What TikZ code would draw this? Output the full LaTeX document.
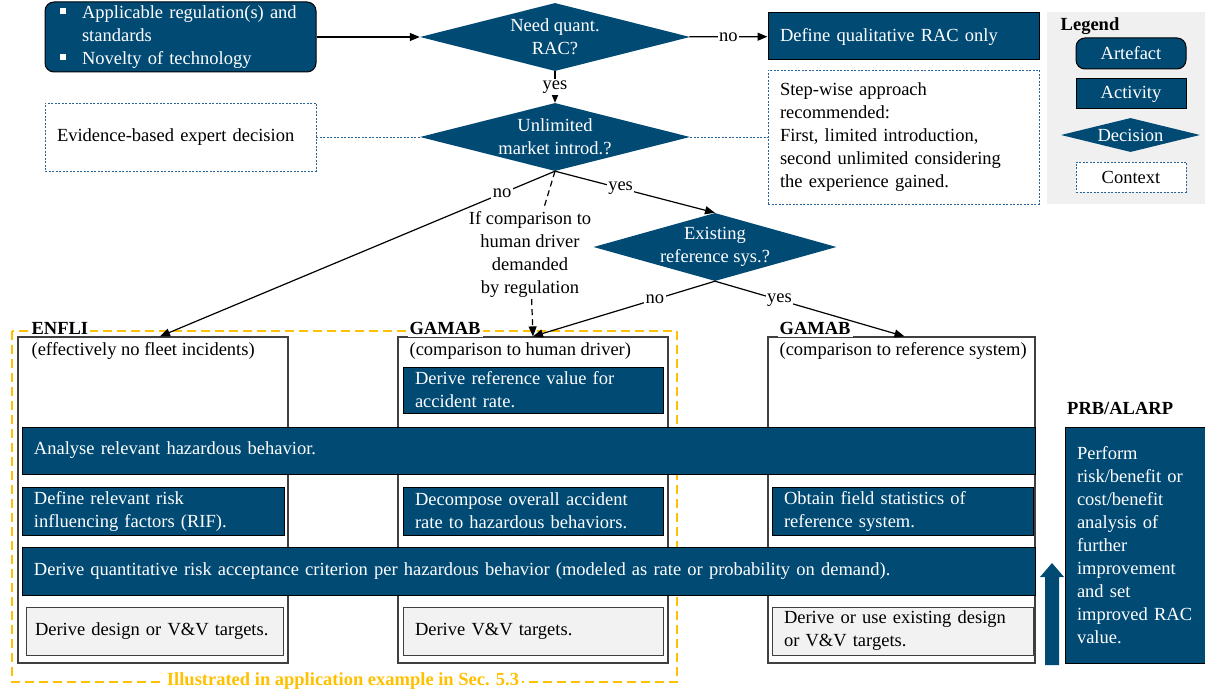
\documentclass[tikz,border=0pt]{standalone}
\usepackage{fontspec}
\setmainfont{Liberation Serif}
\usetikzlibrary{shapes.geometric,arrows.meta,calc}
\definecolor{racblue}{RGB}{0,74,116}
\definecolor{ctxblue}{RGB}{40,100,150}
\definecolor{illuyellow}{RGB}{255,192,0}
\definecolor{colgray}{RGB}{64,64,64}
\definecolor{tgtgray}{RGB}{242,242,242}
\definecolor{leggray}{RGB}{240,240,240}
\newcommand{\sqbul}{\rule[4pt]{6pt}{6pt}}

\begin{document}
\begin{tikzpicture}[x=1pt,y=1pt,yscale=-1,xscale=1,
    font=\fontsize{18.5}{23}\selectfont,
    artefact/.style={draw=black, line width=1pt, fill=racblue, text=white, rounded corners=9pt},
    activity/.style={draw=black, line width=1pt, fill=racblue, text=white, align=left, inner xsep=12pt, inner ysep=0pt},
    decision/.style={diamond, fill=racblue, text=white, align=center, inner sep=-3pt, aspect=4},
    context/.style={draw=ctxblue, dash pattern=on 2pt off 1.5pt, line width=0.9pt, fill=white, align=left, inner xsep=12pt},
    column/.style={draw=colgray, line width=1.2pt, fill=white, minimum width=270pt, minimum height=326pt},
    target/.style={draw=colgray, line width=1pt, fill=tgtgray, align=left, inner xsep=12pt, minimum height=48pt},
    coltitle/.style={font=\fontsize{18.5}{23}\selectfont\bfseries, fill=white, inner sep=2pt, anchor=west},
    colsub/.style={anchor=west, inner sep=0pt},
    flow/.style={line width=1.2pt, -{Triangle[length=10pt,width=8pt]}},
    ctxlink/.style={draw=ctxblue, dash pattern=on 2pt off 1.5pt, line width=0.9pt},
    answer/.style={fill=white, inner sep=1.5pt},
  ]
  \useasboundingbox (0,0) rectangle (1205,695);

  % Legend
  \fill[leggray] (1047,12) rectangle (1205,204);
  \node[font=\fontsize{18.5}{23}\selectfont\bfseries] (legend) at (1090,26) {Legend};
  \node[artefact, minimum width=110pt, minimum height=31pt] (lart) at (1131,53.5) {Artefact};
  \node[activity, align=center, minimum width=110pt, minimum height=30pt] (lact) at (1131,94) {Activity};
  \node[decision, minimum width=139pt, minimum height=34pt] (ldec) at (1130.5,135) {Decision};
  \node[context, align=center, minimum width=110pt, minimum height=30pt] (lctx) at (1131,177) {Context};

  % Upper decisions
  \node[artefact, text width=241pt, inner xsep=15pt, minimum height=70pt, align=left] (inputs) at (180.5,37)
    {\makebox[22pt][l]{\sqbul}Applicable regulation(s) and\\\hspace*{22pt}standards\\\makebox[22pt][l]{\sqbul}Novelty of technology};
  \node[decision, minimum width=270pt, minimum height=68pt] (q1) at (555,37) {Need quant.\\RAC?};
  \node[activity, text width=247pt, minimum height=47pt] (qual) at (903.5,36.5) {Define qualitative RAC only};
  \node[context, text width=247pt, minimum height=134pt] (step) at (903.5,137)
    {Step-wise approach\\recommended:\\First, limited introduction,\\second unlimited considering\\the experience gained.};
  \node[decision, minimum width=270pt, minimum height=68pt] (q2) at (555,137) {Unlimited\\market introd.?};
  \node[context, text width=247pt, minimum height=68pt] (evid) at (180.5,137) {Evidence-based expert decision};
  \node[decision, aspect=3.6, minimum width=243pt, minimum height=68pt] (q3) at (715,247) {Existing\\reference sys.?};
  \node[align=center, inner sep=2pt] (cond) at (530,254) {If comparison to\\human driver\\demanded\\by regulation};

  % Illustrated part
  \draw[illuyellow, line width=1.5pt, dash pattern=on 9pt off 5pt] (12,331) rectangle (677,682);
  \node[fill=white, text=illuyellow, font=\fontsize{18.5}{23}\selectfont\bfseries, inner sep=3pt] (illu) at (343,681)
    {Illustrated in application example in Sec. 5.3};

  % Columns
  \node[column] (enfli) at (153,500) {};
  \node[column] (gamh) at (533,500) {};
  \node[column, minimum width=267pt] (gamr) at (901.5,500) {};
  \node[coltitle] (enfliT) at ($(enfli.north west)+(12,-8)$) {ENFLI};
  \node[colsub] (enfliS) at ($(enfli.north west)+(14,15)$) {(effectively no fleet incidents)};
  \node[coltitle] (gamhT) at ($(gamh.north west)+(10,-8)$) {GAMAB};
  \node[colsub] (gamhS) at ($(gamh.north west)+(12,15)$) {(comparison to human driver)};
  \node[coltitle] (gamrT) at ($(gamr.north west)+(10,-8)$) {GAMAB};
  \node[colsub] (gamrS) at ($(gamr.north west)+(12,15)$) {(comparison to reference system)};

  % Activities
  \node[activity, text width=236pt, minimum height=46pt] (refval) at (533,390) {Derive reference value for\\accident rate.};
  \node[activity, text width=989pt, minimum height=47pt] (hazbar) at (528.5,450.5) {Analyse relevant hazardous behavior.};
  \node[activity, text width=238pt, minimum height=48pt] (rif) at (153,511) {Define relevant risk\\influencing factors (RIF).};
  \node[activity, text width=236pt, minimum height=48pt] (decomp) at (533,511) {Decompose overall accident\\rate to hazardous behaviors.};
  \node[activity, text width=237pt, minimum height=48pt] (field) at (902.5,511) {Obtain field statistics of\\reference system.};
  \node[activity, text width=989pt, minimum height=48pt] (racbar) at (528.5,571)
    {Derive quantitative risk acceptance criterion per hazardous behavior (modeled as rate or probability on demand).};
  \node[target, text width=247pt, inner xsep=5pt] (tgt1) at (154.5,631) {\hspace*{4pt}Derive design or V\&V targets.};
  \node[target, text width=236pt] (tgt2) at (533,631) {Derive V\&V targets.};
  \node[target, text width=237pt] (tgt3) at (902.5,631) {Derive or use existing design\\or V\&V targets.};

  % PRB/ALARP
  \node[font=\fontsize{18.5}{23}\selectfont\bfseries, anchor=west, inner sep=0pt] (prbT) at (1067,408) {PRB/ALARP};
  \node[activity, text width=116pt, minimum height=236pt] (prb) at (1135,545)
    {Perform\\risk/benefit or\\cost/benefit\\analysis of\\further\\improvement\\and set\\improved RAC\\value.};
  \fill[racblue] (1045,665) -- (1045,577) -- (1040,577) -- (1052,563) -- (1064,577) -- (1059,577) -- (1059,665) -- cycle;

  % Connectors
  \draw[flow] (inputs) -- (q1);
  \draw[flow] (q1) -- node[answer] {no} (qual);
  \draw[flow] (q1) -- node[answer] {yes} (q2);
  \draw[ctxlink] (evid) -- (q2);
  \draw[ctxlink] (q2) -- (step);
  \draw[flow] (q2.south) -- node[answer, pos=0.134] {no} ([xshift=7pt]enfli.north);
  \draw[flow] (q2.south) -- node[answer, pos=0.41] {yes} (q3.north);
  \draw[line width=1.2pt, dash pattern=on 6pt off 4pt] (q2.south) -- (cond);
  \draw[flow, dash pattern=on 6pt off 4pt] (cond) -- (gamh.north);
  \draw[flow] (q3.south) -- node[answer, pos=0.33] {no} (gamh.north);
  \draw[flow] (q3.south) -- node[answer, pos=0.34] {yes} ([xshift=3pt]gamr.north);
\end{tikzpicture}
\end{document}
